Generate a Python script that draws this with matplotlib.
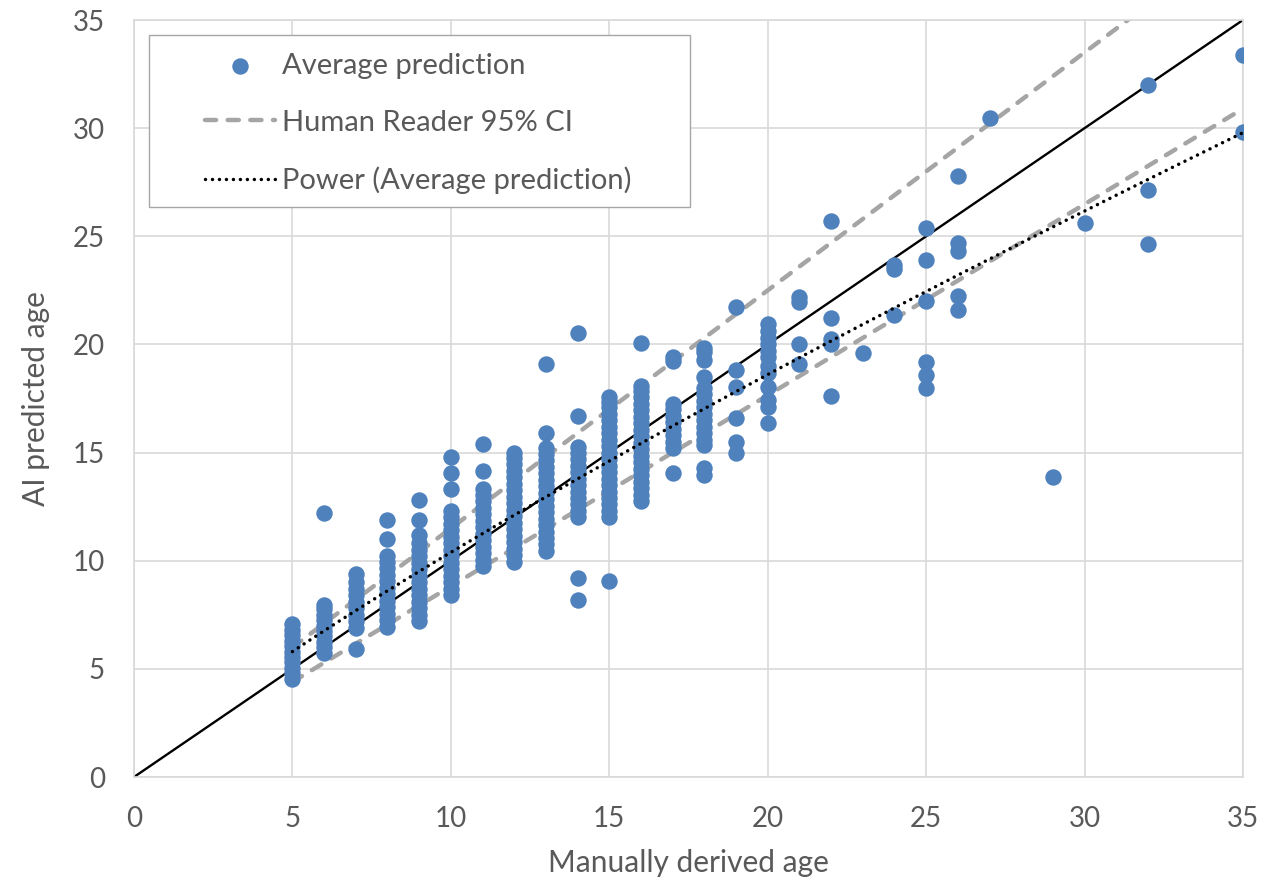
import matplotlib
matplotlib.use("Agg")
import matplotlib.pyplot as plt
import numpy as np
from matplotlib.patches import Rectangle

plt.rcParams["font.family"] = ["Lato", "DejaVu Sans"]

manual_ages = [5, 6, 7, 8, 9, 10, 11, 12, 13, 14, 15, 16, 17, 18, 19, 20,
               21, 22, 23, 24, 25, 26, 27, 29, 30, 32, 35]
ai_predictions = [
    [4.55, 4.8, 5.05, 5.3, 5.55, 5.8, 6.05, 6.3, 6.55, 6.8, 7.07],
    [5.75, 6.0, 6.25, 6.5, 6.75, 7.0, 7.25, 7.5, 7.75, 7.95, 12.2],
    [5.9, 6.9, 7.2, 7.5, 7.8, 8.1, 8.4, 8.7, 9.0, 9.4],
    [6.95, 7.25, 7.55, 7.85, 8.15, 8.45, 8.75, 9.05, 9.35, 9.65, 9.95, 10.2, 11.0, 11.9],
    [7.2, 7.5, 7.8, 8.1, 8.4, 8.7, 9.0, 9.3, 9.6, 9.9, 10.2, 10.5, 10.8, 11.2, 11.9, 12.8],
    [8.4, 8.7, 9.0, 9.3, 9.6, 9.9, 10.2, 10.5, 10.8, 11.1, 11.4, 11.7, 12.0, 12.3, 13.3, 14.05, 14.8],
    [9.75, 10.05, 10.35, 10.65, 10.95, 11.25, 11.55, 11.85, 12.15, 12.45, 12.75, 13.05, 13.3, 14.15, 15.4],
    [9.95, 10.25, 10.55, 10.85, 11.15, 11.45, 11.75, 12.05, 12.35, 12.65, 12.95, 13.25, 13.55, 13.85,
     14.15, 14.45, 14.75, 15.0],
    [10.45, 10.75, 11.05, 11.35, 11.65, 11.95, 12.25, 12.55, 12.85, 13.15, 13.45, 13.75, 14.05, 14.35,
     14.65, 14.95, 15.2, 15.9, 19.1],
    [8.2, 9.2, 12.0, 12.3, 12.6, 12.9, 13.2, 13.5, 13.8, 14.1, 14.4, 14.7, 15.0, 15.25, 16.7, 20.55],
    [9.05, 12.0, 12.3, 12.6, 12.9, 13.2, 13.5, 13.8, 14.1, 14.4, 14.7, 15.0, 15.3, 15.6, 15.9, 16.2,
     16.5, 16.8, 17.1, 17.35, 17.55],
    [12.75, 13.05, 13.35, 13.65, 13.95, 14.25, 14.55, 14.85, 15.15, 15.45, 15.75, 16.05, 16.35, 16.65,
     16.95, 17.25, 17.55, 17.85, 18.1, 20.05],
    [14.05, 15.2, 15.5, 15.8, 16.1, 16.4, 16.7, 17.0, 17.25, 19.25, 19.4],
    [13.95, 14.3, 15.35, 15.6, 15.9, 16.2, 16.5, 16.8, 17.1, 17.4, 17.7, 18.0, 18.5, 19.3, 19.65, 19.85],
    [15.0, 15.5, 16.6, 18.05, 18.8, 21.75],
    [16.35, 17.1, 17.45, 18.05, 18.7, 19.0, 19.4, 19.7, 20.0, 20.3, 20.6, 20.95],
    [19.1, 20.0, 21.95, 22.2],
    [17.6, 20.0, 20.25, 21.2, 25.7],
    [19.6],
    [21.35, 23.5, 23.65],
    [18.0, 18.6, 19.2, 22.0, 23.9, 25.4],
    [21.6, 22.25, 24.3, 24.7, 27.8],
    [30.45],
    [13.85],
    [25.6],
    [24.65, 27.15, 32.0],
    [29.8, 33.4],
]

# human reader 95% CI band (straight segments)
ci_x = [5, 35]
ci_upper = [6.0, 39.0]
ci_lower = [4.4, 30.9]

# identity line
identity_x = [0, 35]
identity_y = [0, 35]

# Excel power trendline y = a * x^b
power_a = 1.498
power_b = 0.841
power_x_range = [5, 35]

x_ticks = [0, 5, 10, 15, 20, 25, 30, 35]
y_ticks = [0, 5, 10, 15, 20, 25, 30, 35]

BLUE = "#4F81BD"
GREY_TEXT = "#595959"
GRID = "#D9D9D9"

xs = np.concatenate([[m] * len(v) for m, v in zip(manual_ages, ai_predictions)])
ys = np.concatenate(ai_predictions)

fig = plt.figure(figsize=(12.83, 8.83), dpi=100)
ax = fig.add_axes([134 / 1283, 1 - 777 / 883, (1243 - 134) / 1283, (777 - 20) / 883])

ax.plot(identity_x, identity_y, color="black", lw=1.7, zorder=2, solid_capstyle="butt")
ax.plot(ci_x, ci_upper, color="#A5A5A5", lw=3.2, linestyle=(0, (2.5, 2.6)),
        dash_capstyle="round", zorder=2, label="Human Reader 95% CI")
ax.plot(ci_x, ci_lower, color="#A5A5A5", lw=3.2, linestyle=(0, (2.5, 2.6)),
        dash_capstyle="round", zorder=2)
ax.scatter(xs, ys, s=140, color=BLUE, linewidths=0, zorder=3, label="Average prediction")

tx = np.linspace(power_x_range[0], power_x_range[1], 200)
ax.plot(tx, power_a * tx ** power_b, color="black", lw=2.5, linestyle=(0, (0.01, 2.0)),
        dash_capstyle="round", zorder=4, label="Power (Average prediction)")

ax.set_xlim(0, 35)
ax.set_ylim(0, 35)
ax.set_xticks(x_ticks)
ax.set_yticks(y_ticks)
ax.tick_params(length=0, labelsize=20, labelcolor=GREY_TEXT, pad=21)
ax.grid(True, color=GRID, lw=1.2, zorder=0)
ax.set_axisbelow(True)
for s in ax.spines.values():
    s.set_color(GRID)
    s.set_linewidth(1.2)

ax.set_xlabel("Manually derived age", fontsize=21.5, color=GREY_TEXT, labelpad=12)
ax.set_ylabel("AI predicted age", fontsize=21.5, color=GREY_TEXT, labelpad=16)

handles, labels = ax.get_legend_handles_labels()
order = [labels.index("Average prediction"), labels.index("Human Reader 95% CI"),
         labels.index("Power (Average prediction)")]
leg = fig.legend([handles[i] for i in order], [labels[i] for i in order],
                 loc="upper left", bbox_to_anchor=(205 / 1283, 1 - 53 / 883),
                 frameon=False, fontsize=21, labelcolor=GREY_TEXT, borderpad=0,
                 borderaxespad=0, handlelength=2.4, handletextpad=0.25, labelspacing=1.05)

fig.patches.append(Rectangle((149 / 1283, 1 - 207 / 883), (690 - 149) / 1283, (207 - 35) / 883,
                             transform=fig.transFigure, facecolor="white",
                             edgecolor="#A6A6A6", lw=1.0, zorder=5))
leg.set_zorder(6)

fig.savefig("out.png", dpi=100)
